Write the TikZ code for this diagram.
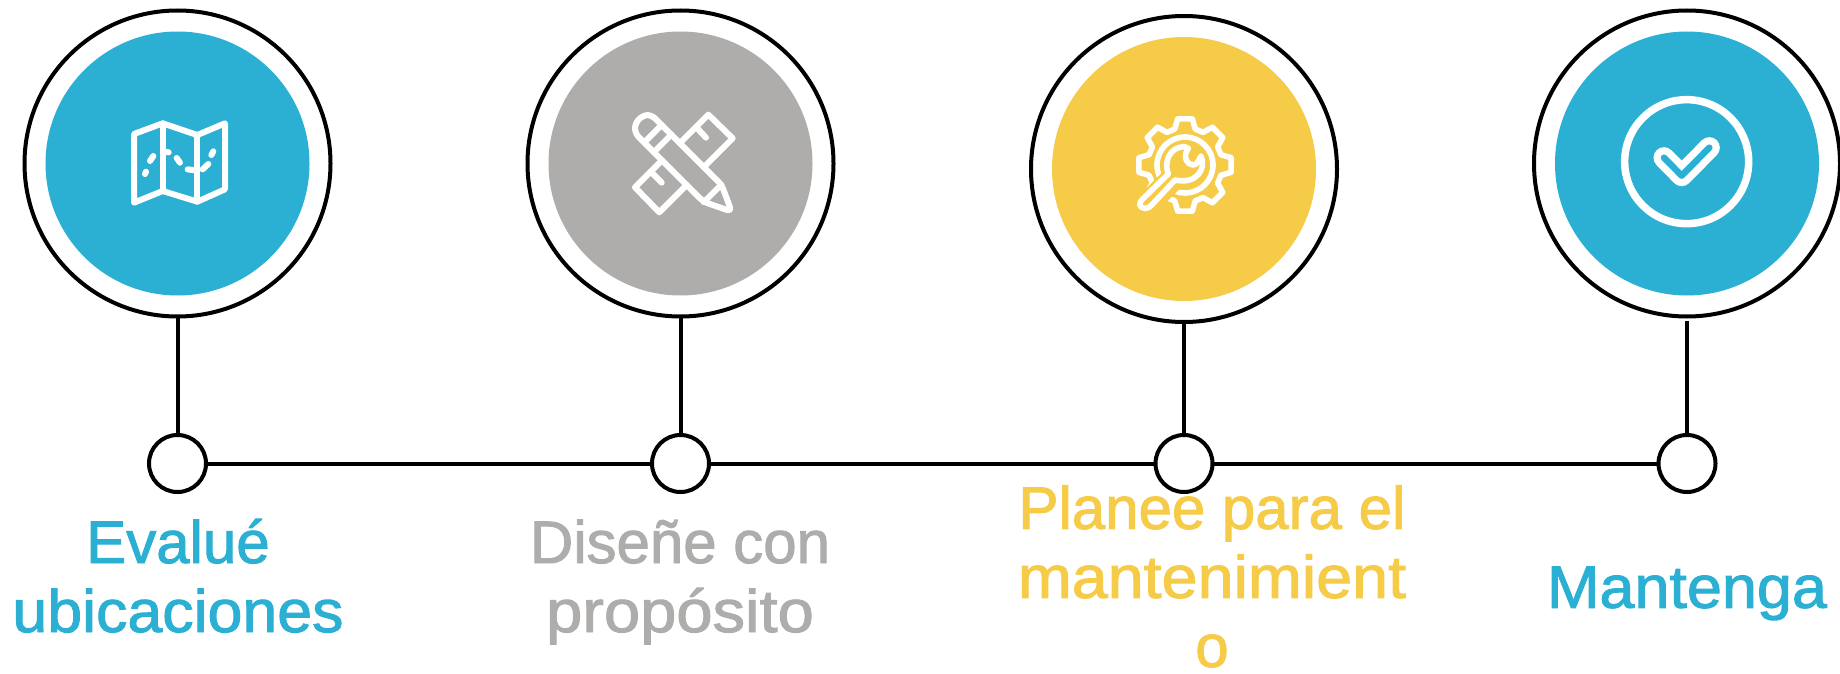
\documentclass[tikz,border=0pt]{standalone}
\usepackage{fontspec}
\usepackage{graphicx}
\setmainfont[FakeBold=1.6]{Liberation Sans}
\definecolor{cblue}{HTML}{2BB0D4}
\definecolor{cgrey}{HTML}{AEADAB}
\definecolor{cyell}{HTML}{F5CB47}
\tikzset{
  ringc/.style={circle,draw=black,line width=4pt,fill=white,minimum size=306pt,inner sep=0pt,outer sep=0pt},
  disc/.style={circle,minimum size=264pt,inner sep=0pt,outer sep=0pt},
  dotc/.style={circle,draw=black,line width=4pt,fill=white,minimum size=57pt,inner sep=0pt,outer sep=0pt},
  conn/.style={draw=black,line width=4pt},
  icon/.style={draw=white,line width=6pt,line cap=round,line join=round},
  label/.style={align=center,inner sep=0pt,font=\fontsize{60}{69}\selectfont,anchor=center},
}
\newcommand{\hs}[2]{\scalebox{#1}[1]{#2}\strut}
\begin{document}
\begin{tikzpicture}[x=1pt,y=-1pt]
\useasboundingbox (0,0) rectangle (1840,674);
% rings
\node[ringc] (r1) at (177.5,163.5) {};
\node[ringc] (r2) at (680.5,163.5) {};
\node[ringc] (r3) at (1184,169) {};
\node[ringc] (r4) at (1687,163.5) {};
\node[disc,fill=cblue] (f1) at (r1) {};
\node[disc,fill=cgrey] (f2) at (r2) {};
\node[disc,fill=cyell] (f3) at (r3) {};
\node[disc,fill=cblue] (f4) at (r4) {};
% dots
\node[dotc] (d1) at (177.5,463.5) {};
\node[dotc] (d2) at (680.5,463.5) {};
\node[dotc] (d3) at (1184,463.5) {};
\node[dotc] (d4) at (1687,463.5) {};
\coordinate (s4) at (1687,320.5);
\draw[conn] (r1.south) -- (d1.north);
\draw[conn] (r2.south) -- (d2.north);
\draw[conn] (r3.south) -- (d3.north);
\draw[conn] (s4) -- (d4.north);
\draw[conn] (d1.east) -- (d2.west);
\draw[conn] (d2.east) -- (d3.west);
\draw[conn] (d3.east) -- (d4.west);
% map icon
\begin{scope}[shift={(120,110)},scale=1/3]
\draw[icon] (42,72) -- (128,40) -- (232,75) -- (315,40) -- (315,238) -- (232,275) -- (128,243) -- (42,278) -- cycle;
\draw[icon] (128,40) -- (128,243);
\draw[icon] (232,75) -- (232,275);
\draw[icon] (90,153) -- (100,138);
\draw[icon] (75,192) -- (78,185);
\draw[icon] (135,125) -- (146,127);
\draw[icon] (170,144) -- (180,158);
\draw[icon] (203,178) -- (225,181);
\draw[icon] (248,178) -- (265,162);
\draw[icon] (274,135) -- (280,124);
\end{scope}
% pencil and ruler icon
\begin{scope}[shift={(620,100)},scale=1/3]
\draw[icon] (179.5,129.5) -- (265,44) -- (338,115) -- (251.5,201.5);
\draw[icon] (228,81) -- (258,113);
\draw[icon] (126,181) -- (45,262) -- (118,337) -- (200,255);
\draw[icon] (92,215) -- (125,248);
\draw[icon,rounded corners=5pt] (95,45) -- (305,255) -- (335,335) -- (250,305) -- (45,100) -- (45,70) -- (70,45) -- cycle;
\draw[icon] (72.5,127.5) -- (125,75);
\draw[icon] (101.5,156.5) -- (154,104);
\draw[icon] (251.5,306.5) -- (304,254);
\end{scope}
% gear and wrench icon
\begin{scope}[shift={(1125,105)},scale=1/3]
\begin{scope}[shift={(180,180)}]
\draw[icon,line width=5.6pt] (-16:112)
  \foreach \a in {0,45,...,315} { -- (\a-16:112) -- (\a-9:140) -- (\a+9:140) -- (\a+16:112) } -- cycle;
\draw[icon,line width=5.6pt] (0,0) circle[radius=84];
\end{scope}
\draw[cyell,line width=24pt,line cap=round] (150,215) -- (30,335);
\draw[icon,line width=5.6pt,fill=cyell] (52,283) -- (130,207) .. controls (115,170) and (135,125) .. (178,125)
  -- (190,130) .. controls (172,155) and (185,180) .. (205,180) .. controls (215,180) and (222,165) .. (228,153)
  .. controls (245,190) and (215,240) .. (150,225) -- (78,302) .. controls (62,320) and (30,305) .. cycle;
\end{scope}
% check icon
\begin{scope}[shift={(1610,85)},scale=1/3]
\draw[white,line width=7.5pt] (230,230) circle[radius=186];
\draw[white,line width=21pt,line cap=round,line join=round] (162,218) -- (215,272) -- (298,188);
\draw[cblue,line width=6.5pt,line cap=round,line join=round] (162,218) -- (215,272) -- (298,188);
\end{scope}
% labels
\node[label,text=cblue] (t1) at (178,583.7) {\hs{1}{Evalué}\\\hs{1.045}{ubicaciones}};
\node[label,text=cgrey] (t2) at (680,583.7) {\hs{1}{Diseñe con}\\\hs{1.085}{propósito}};
\node[label,text=cyell] (t3) at (1212,574) {\hs{1}{Planee para el}\\\hs{1.078}{mantenimient}\\o};
\node[label,text=cblue] (t4) at (1687,594) {\hs{1.049}{Mantenga}};
\end{tikzpicture}
\end{document}
